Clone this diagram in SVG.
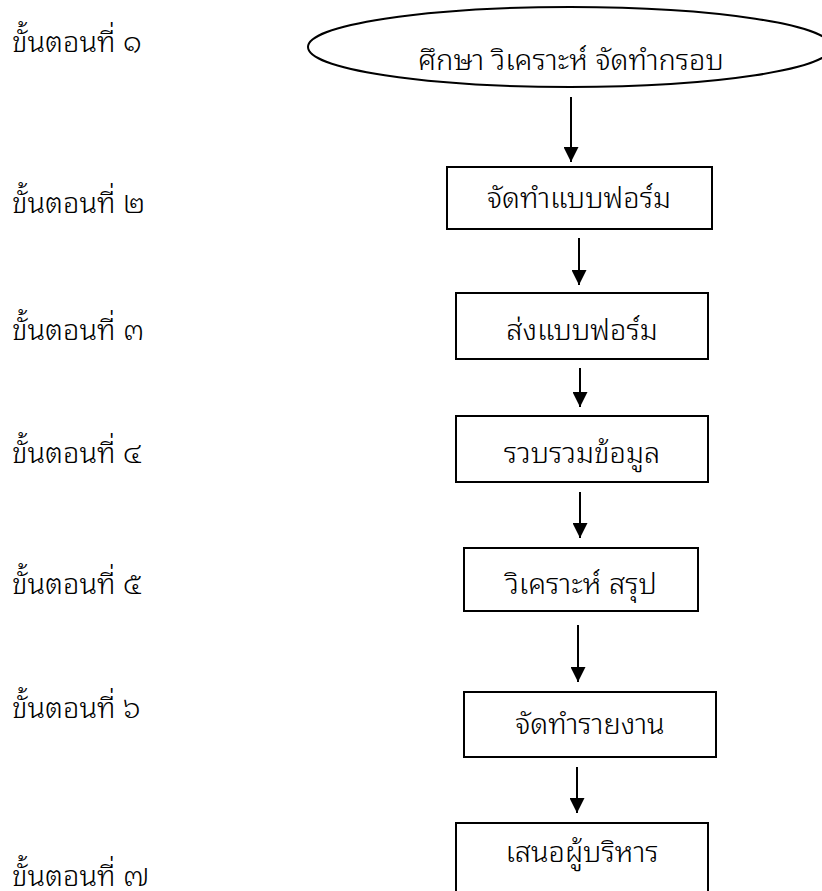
<svg xmlns="http://www.w3.org/2000/svg" width="822" height="891" viewBox="0 0 822 891">
<defs>
<style>
text{font-family:"Noto Sans Thai Looped","Noto Serif Thai","Leelawadee UI","Leelawadee",Tahoma,"Garuda","Loma","Noto Sans Thai","Noto Sans",sans-serif;font-size:29px;font-weight:300;fill:#000}
.c{text-anchor:middle}
.box{fill:#fff;stroke:#000;stroke-width:2}
.ar{stroke:#000;stroke-width:2;fill:none;marker-end:url(#ah)}
</style>
<marker id="ah" markerUnits="userSpaceOnUse" markerWidth="15" markerHeight="15" viewBox="0 0 15 15" refX="15" refY="7.5" orient="auto">
<path d="M0,0 L15,7.5 L0,15 Z" fill="#000"/>
</marker>
</defs>
<rect width="822" height="891" fill="#fff"/>
<g id="labels">
<text x="12" y="52">ขั้นตอนที่ ๑</text>
<text x="12" y="213">ขั้นตอนที่ ๒</text>
<text x="12" y="340">ขั้นตอนที่ ๓</text>
<text x="12" y="463">ขั้นตอนที่ ๔</text>
<text x="12" y="594">ขั้นตอนที่ ๕</text>
<text x="12" y="718">ขั้นตอนที่ ๖</text>
<text x="12" y="886">ขั้นตอนที่ ๗</text>
</g>
<g id="n1"><ellipse cx="570" cy="47" rx="262" ry="40" class="box"/><text class="c" x="571" y="70">ศึกษา วิเคราะห์ จัดทำกรอบ</text></g>
<g id="n2"><rect x="447" y="167" width="265" height="62" class="box"/><text class="c" x="579" y="208">จัดทำแบบฟอร์ม</text></g>
<g id="n3"><rect x="456" y="293" width="252" height="66" class="box"/><text class="c" x="582" y="340">ส่งแบบฟอร์ม</text></g>
<g id="n4"><rect x="456" y="416" width="252" height="66" class="box"/><text class="c" x="582" y="463">รวบรวมข้อมูล</text></g>
<g id="n5"><rect x="464" y="548" width="234" height="63" class="box"/><text class="c" x="581" y="594">วิเคราะห์ สรุป</text></g>
<g id="n6"><rect x="464" y="692" width="252" height="65" class="box"/><text class="c" x="590" y="734">จัดทำรายงาน</text></g>
<g id="n7"><rect x="456" y="823" width="252" height="80" class="box"/><text class="c" x="582" y="862">เสนอผู้บริหาร</text></g>
<g id="connectors">
<line class="ar" x1="571" y1="97" x2="571" y2="162"/>
<line class="ar" x1="579" y1="238" x2="579" y2="285"/>
<line class="ar" x1="580" y1="368" x2="580" y2="407"/>
<line class="ar" x1="580" y1="492" x2="580" y2="538"/>
<line class="ar" x1="578" y1="625" x2="578" y2="682"/>
<line class="ar" x1="577" y1="767" x2="577" y2="813"/>
</g>
</svg>
